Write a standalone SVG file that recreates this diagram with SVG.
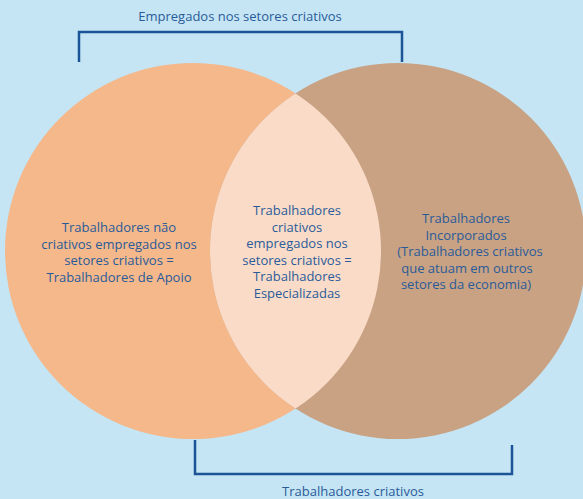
<svg xmlns="http://www.w3.org/2000/svg" width="583" height="499" viewBox="0 0 583 499">
<defs>
<style>
.t{font-family:"Open Sans","Noto Sans","Liberation Sans",sans-serif;font-size:13px;fill:#2a5b99;text-anchor:middle}
.br{fill:none;stroke:#1b5597;stroke-width:2.5}
</style>
<clipPath id="cl"><circle cx="193" cy="251" r="188"/></clipPath>
</defs>
<rect width="583" height="499" fill="#c5e5f4"/>
<g id="left"><circle cx="193" cy="251" r="188" fill="#f4b88b"/></g>
<g id="right"><circle cx="398" cy="251" r="188" fill="#c8a283"/></g>
<g id="center"><circle cx="398" cy="251" r="188" fill="#fadbc8" clip-path="url(#cl)"/></g>
<g id="connectors">
<path class="br" d="M79 62V32H402V62"/>
<path class="br" d="M195 440V474H512V445"/>
</g>
<g id="label-top"><text class="t" x="240" y="21">Empregados nos setores criativos</text></g>
<g id="label-bottom"><text class="t" x="353" y="496">Trabalhadores criativos</text></g>
<g id="left-text">
<text class="t" x="119" y="232">Trabalhadores não</text>
<text class="t" x="119" y="248.5">criativos empregados nos</text>
<text class="t" x="119" y="265">setores criativos =</text>
<text class="t" x="119" y="281.5">Trabalhadores de Apoio</text>
</g>
<g id="center-text">
<text class="t" x="297" y="215">Trabalhadores</text>
<text class="t" x="297" y="231.5">criativos</text>
<text class="t" x="297" y="248">empregados nos</text>
<text class="t" x="297" y="264.5">setores criativos =</text>
<text class="t" x="297" y="281">Trabalhadores</text>
<text class="t" x="297" y="297.5">Especializadas</text>
</g>
<g id="right-text">
<text class="t" x="466" y="223">Trabalhadores</text>
<text class="t" x="466" y="239.5">Incorporados</text>
<text class="t" x="470" y="256">(Trabalhadores criativos</text>
<text class="t" x="467" y="272.5">que atuam em outros</text>
<text class="t" x="466" y="289">setores da economia)</text>
</g>
</svg>
